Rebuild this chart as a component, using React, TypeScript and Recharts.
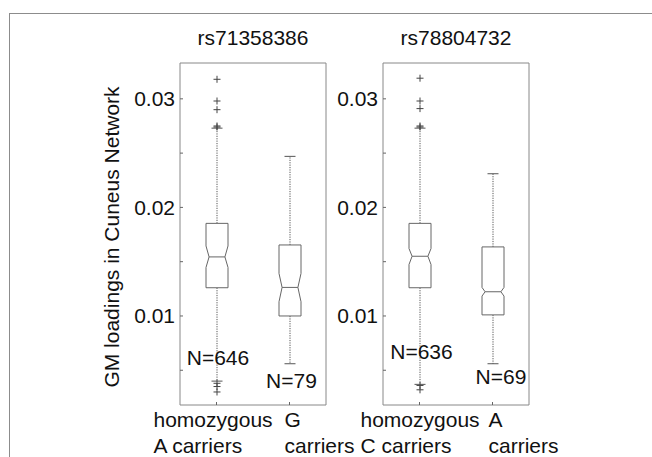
import { ComposedChart, Bar, XAxis, YAxis, ReferenceDot } from "recharts";

const FONT = "'Liberation Sans', Arial, Helvetica, sans-serif";

/* ─── Data ──────────────────────────────────────────────────── */

const titles = ["rs71358386", "rs78804732"];
const yTicks = [0.005, 0.01, 0.015, 0.02, 0.025, 0.03];
const yLabelled = [0.01, 0.02, 0.03];
const yDomain: [number, number] = [0.0018, 0.0333];

// rs71358386
const leftCats = ["homozygous|A carriers", "G|carriers"];
const leftN = [646, 79];
const leftQ1 = [0.0126, 0.01];
const leftMed = [0.01544, 0.01263];
const leftQ3 = [0.01853, 0.01654];
const leftNotchLo = [0.01447, 0.01131];
const leftNotchHi = [0.01645, 0.01392];
const leftWhiskLo = [0.004, 0.0056];
const leftWhiskHi = [0.0273, 0.0247];
const leftOutliers = [[0.0318, 0.0298, 0.029, 0.0275, 0.0274, 0.0038, 0.0035, 0.003], []];
const leftNy = [0.0055, 0.0034];

// rs78804732
const rightCats = ["homozygous|C carriers", "A|carriers"];
const rightN = [636, 69];
const rightQ1 = [0.0126, 0.0101];
const rightMed = [0.0155, 0.01223];
const rightQ3 = [0.01853, 0.01636];
const rightNotchLo = [0.01474, 0.01183];
const rightNotchHi = [0.01621, 0.01263];
const rightWhiskLo = [0.0037, 0.0056];
const rightWhiskHi = [0.0273, 0.0231];
const rightOutliers = [[0.0319, 0.0298, 0.0291, 0.0275, 0.0274, 0.0036, 0.0032], []];
const rightNy = [0.006, 0.0037];

/* ─── Layout ────────────────────────────────────────────────── */

// x-label block start relative to category centre
const leftLabelDx = [-63, -5];
const rightLabelDx = [-59, -4];
const leftNDx = [1.5, 2];
const rightNDx = [2, 8.5];

type Row = {
  name: string;
  q1: number;
  med: number;
  q3: number;
  notchLo: number;
  notchHi: number;
  wLo: number;
  wHi: number;
  outliers: number[];
  lo: number;
  hi: number;
  n: number;
  nY: number;
};

function buildRows(
  cats: string[],
  n: number[],
  q1: number[],
  med: number[],
  q3: number[],
  nLo: number[],
  nHi: number[],
  wLo: number[],
  wHi: number[],
  outs: number[][],
  nY: number[]
): Row[] {
  return cats.map((name, i) => {
    const all = [wLo[i], wHi[i], ...outs[i]];
    return {
      name,
      q1: q1[i],
      med: med[i],
      q3: q3[i],
      notchLo: nLo[i],
      notchHi: nHi[i],
      wLo: wLo[i],
      wHi: wHi[i],
      outliers: outs[i],
      lo: Math.min(...all),
      hi: Math.max(...all),
      n: n[i],
      nY: nY[i],
    };
  });
}

const leftRows = buildRows(leftCats, leftN, leftQ1, leftMed, leftQ3, leftNotchLo, leftNotchHi, leftWhiskLo, leftWhiskHi, leftOutliers, leftNy);
const rightRows = buildRows(rightCats, rightN, rightQ1, rightMed, rightQ3, rightNotchLo, rightNotchHi, rightWhiskLo, rightWhiskHi, rightOutliers, rightNy);

/* ─── Shapes ────────────────────────────────────────────────── */

function NotchedBox(props: any) {
  const { x, y, width, height, payload: d } = props;
  if (!d) return null;
  const top = Math.min(y, y + height);
  const bot = Math.max(y, y + height);
  const py = (v: number) => top + ((d.hi - v) / (d.hi - d.lo)) * (bot - top);
  const cx = x + width / 2;
  const l = x;
  const r = x + width;
  const ins = width * 0.14;
  const cap = width / 4;
  const path = [
    `M${l},${py(d.q3)}`,
    `L${r},${py(d.q3)}`,
    `L${r},${py(d.notchHi)}`,
    `L${r - ins},${py(d.med)}`,
    `L${r},${py(d.notchLo)}`,
    `L${r},${py(d.q1)}`,
    `L${l},${py(d.q1)}`,
    `L${l},${py(d.notchLo)}`,
    `L${l + ins},${py(d.med)}`,
    `L${l},${py(d.notchHi)}`,
    "Z",
  ].join(" ");
  return (
    <g>
      <line x1={cx} x2={cx} y1={py(d.q3)} y2={py(d.wHi)} stroke="#555" strokeWidth={1} strokeDasharray="1.2 1.2" />
      <line x1={cx} x2={cx} y1={py(d.q1)} y2={py(d.wLo)} stroke="#555" strokeWidth={1} strokeDasharray="1.2 1.2" />
      <line x1={cx - cap} x2={cx + cap} y1={py(d.wHi)} y2={py(d.wHi)} stroke="#555" strokeWidth={1} />
      <line x1={cx - cap} x2={cx + cap} y1={py(d.wLo)} y2={py(d.wLo)} stroke="#555" strokeWidth={1} />
      <path d={path} fill="#fff" stroke="#666" strokeWidth={1} />
      <line x1={l + ins} x2={r - ins} y1={py(d.med)} y2={py(d.med)} stroke="#666" strokeWidth={1} />
      {d.outliers.map((v: number, i: number) => (
        <g key={i} stroke="#444" strokeWidth={1}>
          <line x1={cx - 3.5} x2={cx + 3.5} y1={py(v)} y2={py(v)} />
          <line x1={cx} x2={cx} y1={py(v) - 3.5} y2={py(v) + 3.5} />
        </g>
      ))}
    </g>
  );
}

function CatTick(props: any) {
  const { x, y, payload, index, labelDx } = props;
  const lines = String(payload.value).split("|");
  return (
    <g>
      {lines.map((t, i) => (
        <text
          key={i}
          x={x + labelDx[index]}
          y={y + 22 + i * 26}
          textAnchor="start"
          fontSize={21}
          fontFamily={FONT}
          fill="#111"
        >
          {t}
        </text>
      ))}
    </g>
  );
}

/* ─── Panel ─────────────────────────────────────────────────── */

const AXIS = "#888";

function Panel({ rows, nDx, labelDx }: { rows: Row[]; nDx: number[]; labelDx: number[] }) {
  return (
    <ComposedChart
      width={300}
      height={457}
      data={rows}
      margin={{ top: 62, right: 73, bottom: 2, left: 20 }}
      style={{ overflow: "visible" }}
    >
      <XAxis
        dataKey="name"
        type="category"
        interval={0}
        tick={<CatTick labelDx={labelDx} />}
        tickSize={-3}
        tickMargin={3}
        height={50}
        axisLine={{ stroke: AXIS }}
        tickLine={{ stroke: "#666" }}
      />
      <XAxis
        xAxisId="top"
        dataKey="name"
        type="category"
        orientation="top"
        interval={0}
        height={1}
        tick={false}
        tickSize={-3}
        axisLine={{ stroke: AXIS }}
        tickLine={{ stroke: "#666" }}
      />
      <YAxis
        type="number"
        domain={yDomain}
        ticks={yTicks}
        interval={0}
        allowDataOverflow
        width={60}
        tickSize={-3}
        tickMargin={8}
        tickFormatter={(v: number) => (yLabelled.some((t) => Math.abs(t - v) < 1e-9) ? v.toFixed(2) : "")}
        tick={{ fill: "#111", fontSize: 21, fontFamily: FONT }}
        axisLine={{ stroke: AXIS }}
        tickLine={{ stroke: "#666" }}
      />
      <YAxis
        yAxisId="r"
        orientation="right"
        type="number"
        domain={yDomain}
        ticks={yTicks}
        interval={0}
        allowDataOverflow
        width={1}
        tick={false}
        tickSize={-3}
        axisLine={{ stroke: AXIS }}
        tickLine={{ stroke: "#666" }}
      />
      <Bar
        dataKey={(d: Row) => [d.lo, d.hi]}
        barSize={22}
        shape={<NotchedBox />}
        isAnimationActive={false}
      />
      {rows.map((r, i) => (
        <ReferenceDot
          key={r.name}
          x={r.name}
          y={r.nY}
          r={0}
          shape={(p: any) => (
            <text
              x={p.cx + nDx[i]}
              y={p.cy}
              textAnchor="middle"
              fontSize={21}
              fontFamily={FONT}
              fill="#111"
            >
              {`N=${r.n}`}
            </text>
          )}
        />
      ))}
    </ComposedChart>
  );
}

/* ─── App ───────────────────────────────────────────────────── */

export default function App() {
  return (
    <div style={{ position: "relative", width: 652, height: 457, background: "#fff", overflow: "hidden" }}>
      <style>{"body{margin:0}"}</style>
      <div
        style={{
          position: "absolute",
          left: 9,
          top: 13,
          width: 700,
          height: 500,
          borderTop: "1px solid #8c8c8c",
          borderLeft: "1px solid #8c8c8c",
        }}
      />
      <div style={{ position: "absolute", left: 100, top: 0 }}>
        <Panel rows={leftRows} nDx={leftNDx} labelDx={leftLabelDx} />
      </div>
      <div style={{ position: "absolute", left: 303, top: 0 }}>
        <Panel rows={rightRows} nDx={rightNDx} labelDx={rightLabelDx} />
      </div>
      <svg width={652} height={457} style={{ position: "absolute", left: 0, top: 0, pointerEvents: "none" }}>
        <text x={253} y={45} textAnchor="middle" fontSize={21} fontFamily={FONT} fill="#111">
          {titles[0]}
        </text>
        <text x={456} y={45} textAnchor="middle" fontSize={21} fontFamily={FONT} fill="#111">
          {titles[1]}
        </text>
        <text
          x={119}
          y={237}
          textAnchor="middle"
          fontSize={21}
          fontFamily={FONT}
          fill="#111"
          transform="rotate(-90 119 237)"
        >
          GM loadings in Cuneus Network
        </text>
      </svg>
    </div>
  );
}
